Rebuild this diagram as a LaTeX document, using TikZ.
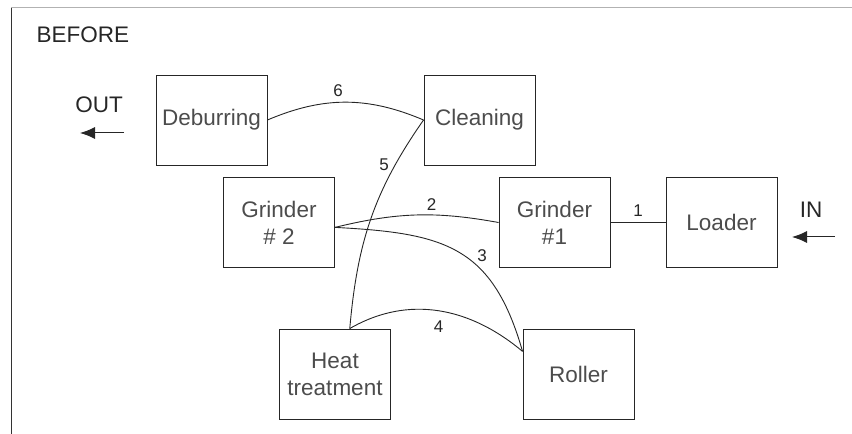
\documentclass[tikz,border=0pt]{standalone}
\usepackage{fontspec}
\setmainfont{Liberation Sans}
\usepackage{tikz}
\usetikzlibrary{arrows.meta}

\begin{document}
\begin{tikzpicture}[x=1pt,y=1pt]
\useasboundingbox (0,0) rectangle (852,434);
\draw[black!80,line width=0.9pt] (11,0) -- (11,427);
\draw[black!30,line width=0.9pt] (11,427) -- (852,427);
\node[anchor=west,text=black!85,font=\fontsize{22.5}{26}\selectfont] (before) at (33,399) {BEFORE};
\begin{scope}[every node/.style={rectangle,draw=black!85,line width=0.9pt,minimum width=111pt,minimum height=90pt,align=center,text=black!70,font=\fontsize{22.5}{27}\selectfont}]
    \node (deb) at (211.5,314) {Deburring};
    \node (cln) at (479.5,314) {Cleaning};
    \node (gr2) at (279,211.5) {Grinder\\\# 2};
    \node (gr1) at (554.5,211.5) {Grinder\\\#1};
    \node (ldr) at (721.5,211.5) {Loader};
    \node (ht) at (335,60) {Heat\\treatment};
    \node (rol) at (578.5,60) {Roller};
\end{scope}
\begin{scope}[every node/.style={text=black!85,font=\fontsize{17}{20}\selectfont,inner sep=2pt},
              every edge/.style={draw=black!85,line width=0.9pt}]
    \path [-] (gr1.east) edge node[above=4pt] {1} (ldr.west);
    \path [-] (gr2.-5) edge[bend left=12] node[above=2pt,pos=0.6] {2} (gr1.west);
    \path [-] (gr2.-5) edge[out=-3,in=106,looseness=1.25] node[above right,pos=0.6] {3} (rol.158);
    \path [-] (ht.72) edge[out=30,in=140] node[below=8pt,pos=0.5] {4} (rol.158);
    \path [-] (ht.72) edge[out=85,in=235] node[left=4pt,pos=0.78] {5} (cln.west);
    \path [-] (deb.east) edge[bend left=23] node[above=3pt,pos=0.45] {6} (cln.west);
\end{scope}
\begin{scope}[>={Latex[length=15pt,width=12pt]},
              every node/.style={text=black!85,font=\fontsize{22.5}{26}\selectfont}]
    \node (out) at (99,329) {OUT};
    \coordinate (outA) at (124,301);
    \coordinate (outB) at (80,301);
    \draw[->,black!85,line width=1pt] (outA) -- (outB);
    \node (in) at (811,224) {IN};
    \coordinate (inA) at (835,197);
    \coordinate (inB) at (792,197);
    \draw[->,black!85,line width=1pt] (inA) -- (inB);
\end{scope}
\end{tikzpicture}
\end{document}
